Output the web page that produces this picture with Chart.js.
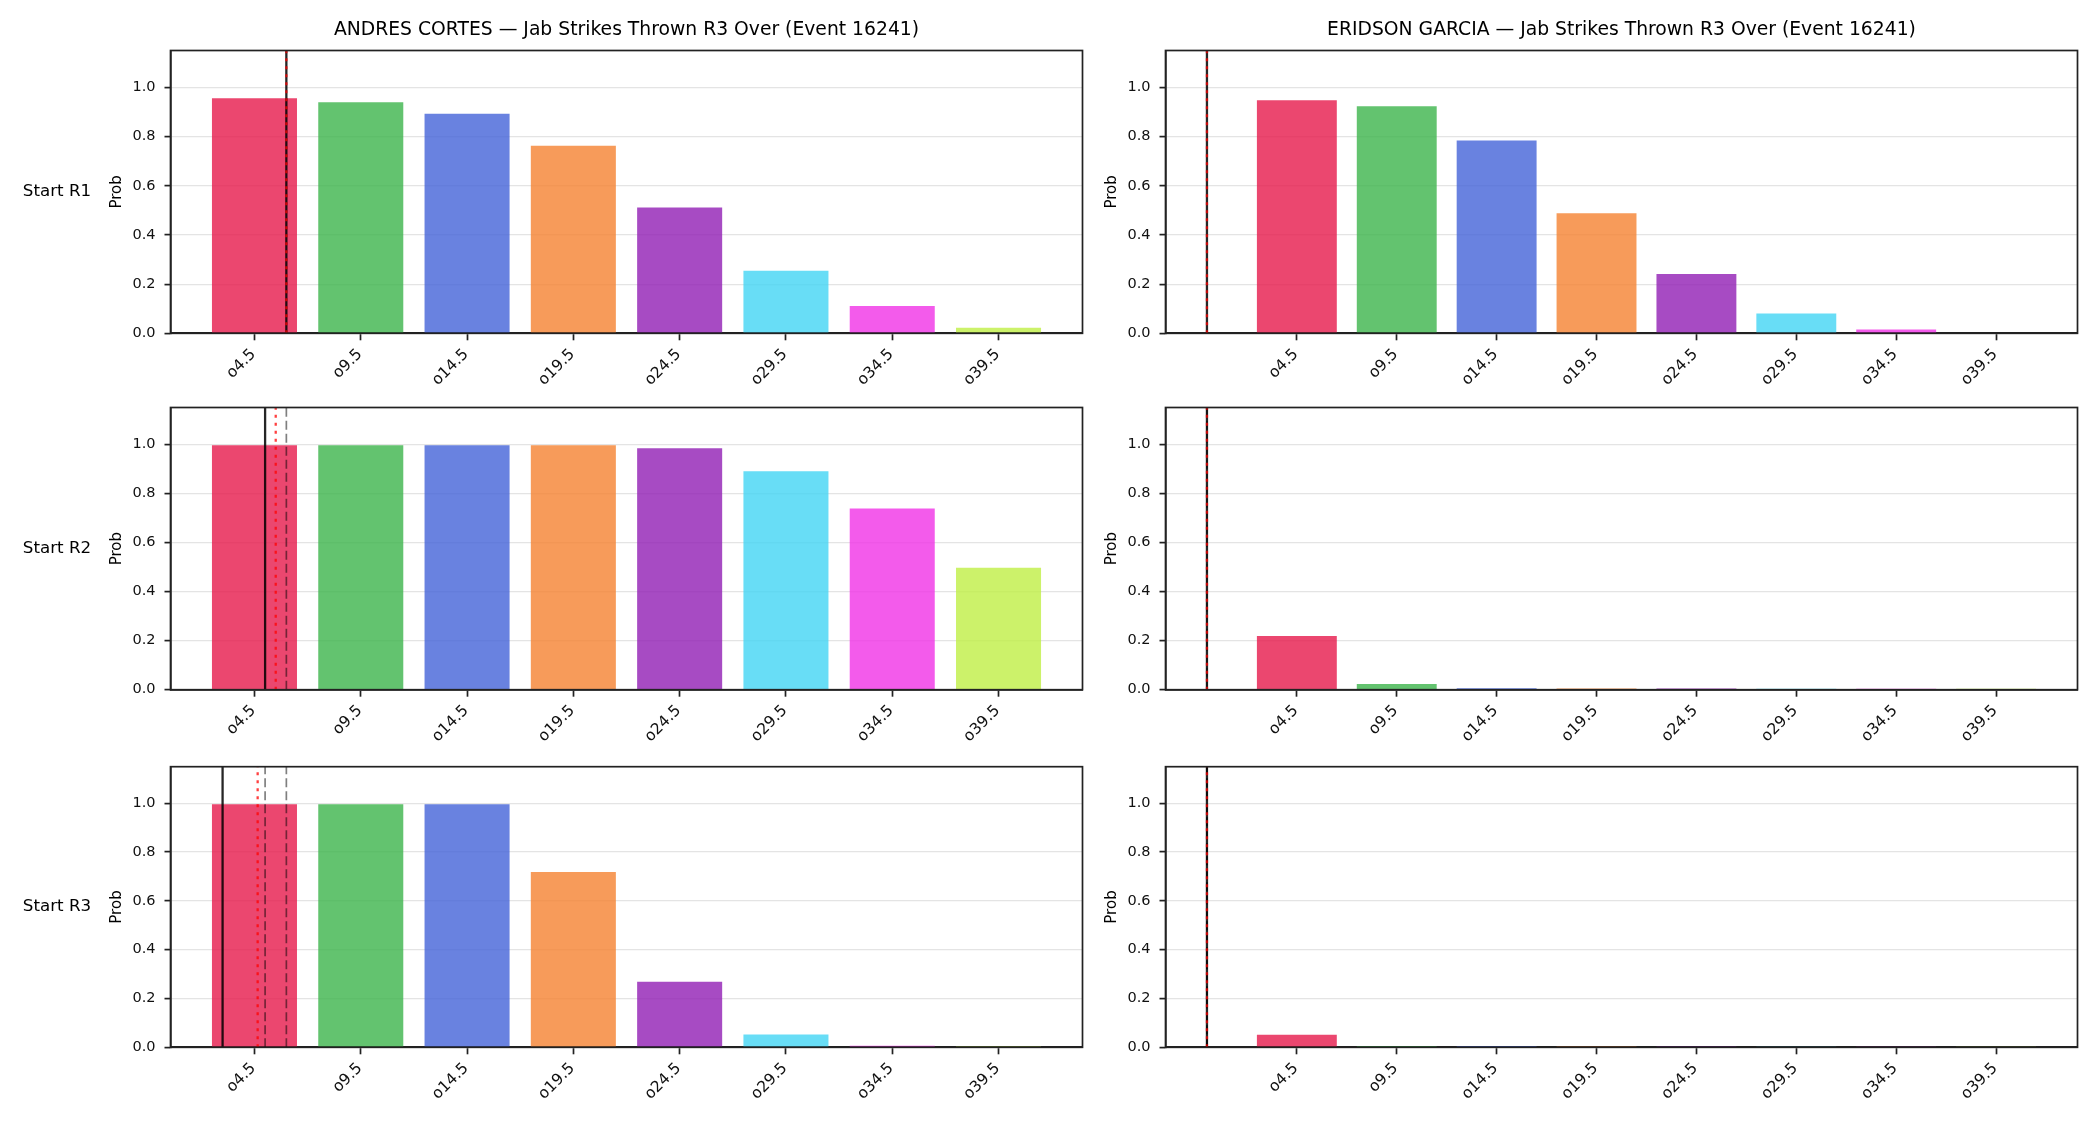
<!DOCTYPE html>
<html>
<head>
<meta charset="utf-8">
<script src="https://cdn.jsdelivr.net/npm/chart.js@4"></script>
<style>
  body { margin: 0; background: #fff; }
  #lienzo { position: relative; width: 2100px; height: 1125px; overflow: hidden; }
  canvas { position: absolute; }
</style>
</head>
<body>
<div id="lienzo">
  <canvas id="a1" width="1100" height="400" style="left:0;top:0"></canvas>
  <canvas id="b1" width="1000" height="400" style="left:1100px;top:0"></canvas>
  <canvas id="a2" width="1100" height="400" style="left:0;top:360px"></canvas>
  <canvas id="b2" width="1000" height="400" style="left:1100px;top:360px"></canvas>
  <canvas id="a3" width="1100" height="405" style="left:0;top:720px"></canvas>
  <canvas id="b3" width="1000" height="405" style="left:1100px;top:720px"></canvas>
</div>
<script>
// Umbrales (eje x) y etiquetas
const umbrales = [4.5, 9.5, 14.5, 19.5, 24.5, 29.5, 34.5, 39.5];
const etiquetas = ['o4.5', 'o9.5', 'o14.5', 'o19.5', 'o24.5', 'o29.5', 'o34.5', 'o39.5'];
const yTicks = [0, 0.2, 0.4, 0.6, 0.8, 1.0];

// Probabilidades por ronda
const cortesR1 = [0.956, 0.940, 0.893, 0.763, 0.512, 0.254, 0.111, 0.023];
const cortesR2 = [0.996, 0.996, 0.996, 0.996, 0.984, 0.890, 0.738, 0.497];
const cortesR3 = [0.996, 0.996, 0.996, 0.718, 0.269, 0.052, 0.006, 0.004];
const garciaR1 = [0.948, 0.923, 0.784, 0.488, 0.241, 0.081, 0.015, 0.002];
const garciaR2 = [0.219, 0.023, 0.006, 0.005, 0.005, 0.004, 0.004, 0.004];
const garciaR3 = [0.051, 0.005, 0.005, 0.004, 0.004, 0.003, 0.003, 0.003];

// Lineas verticales: actual (negra), proyeccion (roja punteada), rondas previas (gris)
const cortesActual = [6, 5, 3];
const cortesProy = [6, 5.5, 4.65];
const cortesPrevias = [[], [6], [6, 5]];
const garciaActual = [0, 0, 0];
const garciaProy = [0, 0, 0];
const garciaPrevias = [[], [0], [0, 0]];

const colores = [
  'rgba(230,25,75,0.8)', 'rgba(60,180,75,0.8)', 'rgba(67,99,216,0.8)', 'rgba(245,130,49,0.8)',
  'rgba(145,30,180,0.8)', 'rgba(66,212,244,0.8)', 'rgba(240,50,230,0.8)', 'rgba(191,239,69,0.8)'
];

const Y_MAX = 1.15;
const fuente = 'DejaVu Sans';
Chart.defaults.font.family = fuente;
Chart.defaults.color = '#111';

// Marco completo del area (como los spines de matplotlib)
const marco = {
  id: 'marco',
  afterDatasetsDraw(chart) {
    const a = chart.chartArea;
    const ctx = chart.ctx;
    ctx.save();
    ctx.strokeStyle = '#222';
    ctx.lineWidth = 1.7;
    ctx.strokeRect(a.left, a.top, a.right - a.left, a.bottom - a.top);
    ctx.restore();
  }
};

// Texto "Start Rn" a la izquierda de la fila
const etiquetaFila = {
  id: 'etiquetaFila',
  afterDraw(chart, args, opts) {
    if (!opts.texto) return;
    const a = chart.chartArea;
    const ctx = chart.ctx;
    ctx.save();
    ctx.font = '16.7px ' + fuente;
    ctx.fillStyle = '#000';
    ctx.textAlign = 'center';
    ctx.textBaseline = 'middle';
    ctx.fillText(opts.texto, 57, (a.top + a.bottom) / 2);
    ctx.restore();
  }
};

function lineaVertical(x, color, ancho, dash, orden) {
  return {
    type: 'line',
    data: [{ x: x, y: 0 }, { x: x, y: Y_MAX }],
    borderColor: color,
    borderWidth: ancho,
    borderDash: dash,
    pointRadius: 0,
    fill: false,
    order: orden
  };
}

function rangoX(xs) {
  const lo = Math.min(umbrales[0] - 2, ...xs);
  const hi = Math.max(umbrales[umbrales.length - 1] + 2, ...xs);
  const m = (hi - lo) * 0.05;
  return [lo - m, hi + m];
}

function crearPanel(id, datos, actual, proy, previas, cfg) {
  const lineas = [actual, proy, ...previas];
  const [xmin, xmax] = rangoX(lineas);
  const datasets = [{
    type: 'bar',
    data: umbrales.map((u, i) => ({ x: u, y: datos[i] })),
    backgroundColor: colores,
    barPercentage: 0.8,
    categoryPercentage: 1,
    order: 10
  }];
  previas.forEach(p => datasets.push(lineaVertical(p, 'rgba(0,0,0,0.5)', 1.7, [9, 4], 5)));
  datasets.push(lineaVertical(actual, 'rgba(0,0,0,0.85)', 2.3, [], 3));
  datasets.push(lineaVertical(proy, 'rgba(255,0,0,0.75)', 2.3, [3, 5], 1));

  new Chart(document.getElementById(id), {
    type: 'bar',
    data: { datasets: datasets },
    plugins: [marco, etiquetaFila],
    options: {
      responsive: false,
      animation: false,
      layout: { padding: cfg.padding },
      plugins: {
        legend: { display: false },
        tooltip: { enabled: false },
        title: {
          display: !!cfg.titulo,
          text: cfg.titulo,
          fullSize: false,
          color: '#000',
          font: { size: 18.75, weight: 'normal', family: fuente },
          padding: { top: 19, bottom: 9 }
        },
        etiquetaFila: { texto: cfg.fila }
      },
      scales: {
        x: {
          type: 'linear',
          min: xmin,
          max: xmax,
          offset: false,
          afterFit: s => { s.height = 60; },
          afterBuildTicks: s => { s.ticks = umbrales.map(v => ({ value: v })); },
          ticks: {
            autoSkip: false,
            minRotation: 45,
            maxRotation: 45,
            padding: 5,
            labelOffset: -1,
            color: '#111',
            font: { size: 15.5 },
            callback: (v, i) => etiquetas[i]
          },
          grid: {
            offset: false,
            drawOnChartArea: false,
            tickLength: 7,
            tickColor: '#222',
            tickWidth: 1.7
          },
          border: { color: '#222', width: 1.7 }
        },
        y: {
          min: 0,
          max: Y_MAX,
          afterFit: s => { s.width = 62.5; },
          afterBuildTicks: s => { s.ticks = yTicks.map(v => ({ value: v })); },
          ticks: {
            padding: 9,
            color: '#111',
            font: { size: 14.5 },
            callback: v => v.toFixed(1)
          },
          grid: {
            color: '#e4e4e4',
            lineWidth: 1.2,
            tickLength: 6,
            tickColor: '#222',
            tickWidth: 1.7
          },
          border: { color: '#222', width: 1.7 },
          title: {
            display: true,
            text: 'Prob',
            color: '#000',
            font: { size: 15 },
            padding: 0
          }
        }
      }
    }
  });
}

const tituloA = 'ANDRES CORTES \u2014 Jab Strikes Thrown R3 Over (Event 16241)';
const tituloB = 'ERIDSON GARCIA \u2014 Jab Strikes Thrown R3 Over (Event 16241)';

crearPanel('a1', cortesR1, cortesActual[0], cortesProy[0], cortesPrevias[0],
  { titulo: tituloA, fila: 'Start R1', padding: { left: 108, right: 17.5, top: 0, bottom: 6.7 } });
crearPanel('b1', garciaR1, garciaActual[0], garciaProy[0], garciaPrevias[0],
  { titulo: tituloB, padding: { left: 3, right: 22.5, top: 0, bottom: 6.7 } });
crearPanel('a2', cortesR2, cortesActual[1], cortesProy[1], cortesPrevias[1],
  { fila: 'Start R2', padding: { left: 108, right: 17.5, top: 47.5, bottom: 10.3 } });
crearPanel('b2', garciaR2, garciaActual[1], garciaProy[1], garciaPrevias[1],
  { padding: { left: 3, right: 22.5, top: 47.5, bottom: 10.3 } });
crearPanel('a3', cortesR3, cortesActual[2], cortesProy[2], cortesPrevias[2],
  { fila: 'Start R3', padding: { left: 108, right: 17.5, top: 46.7, bottom: 17.7 } });
crearPanel('b3', garciaR3, garciaActual[2], garciaProy[2], garciaPrevias[2],
  { padding: { left: 3, right: 22.5, top: 46.7, bottom: 17.7 } });
</script>
</body>
</html>
